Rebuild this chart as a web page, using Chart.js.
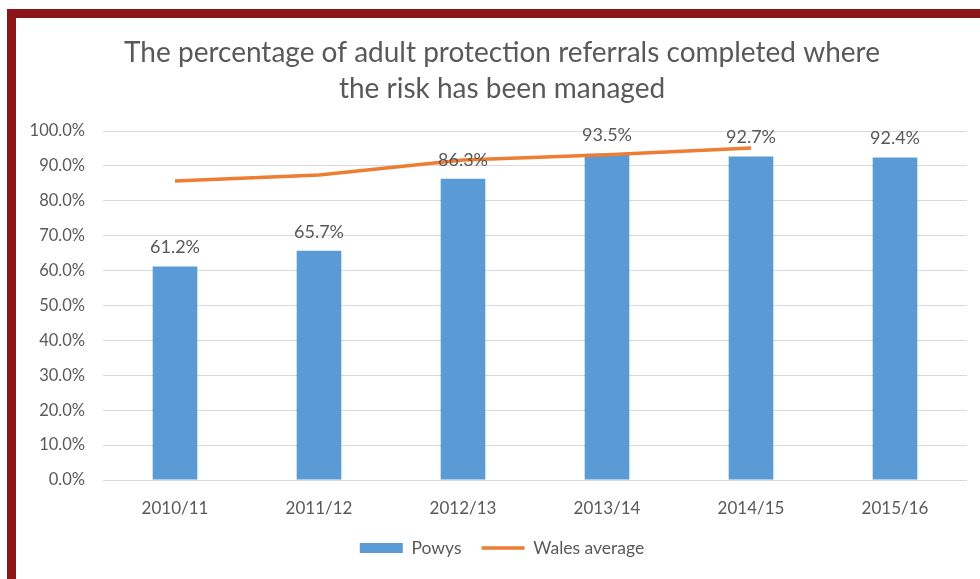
<!DOCTYPE html>
<html>
<head>
<meta charset="utf-8">
<script src="https://cdn.jsdelivr.net/npm/chart.js@4"></script>
<style>
    html, body { margin: 0; padding: 0; background: #fff; overflow: hidden; }
    .frame {
        position: absolute;
        left: 7px;
        top: 9px;
        width: 1000px;
        height: 568px;
        border: 9px solid #8a1619;
        background: #fff;
    }
    .chart-box {
        position: absolute;
        left: 0;
        top: 0;
        width: 972px;
        height: 559px;
    }
</style>
</head>
<body>
<div class="frame">
    <div class="chart-box"><canvas id="referralsChart"></canvas></div>
</div>
<script>
// chart data
const years = ['2010/11', '2011/12', '2012/13', '2013/14', '2014/15', '2015/16'];
const powys = [61.2, 65.7, 86.3, 93.5, 92.7, 92.4];
const walesAverage = [85.7, 87.4, 91.7, 93.2, 95.1, null];
const yTicks = [0, 10, 20, 30, 40, 50, 60, 70, 80, 90, 100];

document.addEventListener('DOMContentLoaded', function() {
    const textColor = '#595959';
    const fontFamily = 'Lato, "Open Sans", sans-serif';

    // labels on top of the bars
    const barLabels = {
        id: 'barLabels',
        afterDatasetsDraw(chart) {
            const meta = chart.getDatasetMeta(1);
            const ctx = chart.ctx;
            ctx.save();
            ctx.font = '18px ' + fontFamily;
            ctx.fillStyle = textColor;
            ctx.textAlign = 'center';
            ctx.textBaseline = 'middle';
            meta.data.forEach((bar, i) => {
                ctx.fillText(powys[i].toFixed(1) + '%', bar.x, bar.y - 19);
            });
            ctx.restore();
        }
    };

    const ctx = document.getElementById('referralsChart').getContext('2d');
    new Chart(ctx, {
        data: {
            labels: years,
            datasets: [{
                type: 'line',
                label: 'Wales average',
                data: walesAverage,
                borderColor: '#ed7d31',
                backgroundColor: '#ed7d31',
                borderWidth: 3.5,
                pointRadius: 0,
                pointStyle: 'line',
                tension: 0
            }, {
                type: 'bar',
                label: 'Powys',
                data: powys,
                backgroundColor: '#5b9bd5',
                borderWidth: 0,
                pointStyle: 'rect',
                barPercentage: 0.31,
                categoryPercentage: 1
            }]
        },
        options: {
            responsive: true,
            maintainAspectRatio: false,
            animation: false,
            layout: {
                padding: { left: 0, right: 0, top: 0, bottom: 10.25 }
            },
            plugins: {
                title: {
                    display: true,
                    text: ['The percentage of adult protection referrals completed where', 'the risk has been managed'],
                    color: textColor,
                    font: { family: fontFamily, size: 28, weight: 'normal', lineHeight: 1.286 },
                    padding: { top: 17, bottom: 24 }
                },
                legend: {
                    position: 'bottom',
                    reverse: true,
                    labels: {
                        usePointStyle: true,
                        pointStyleWidth: 43,
                        boxWidth: 43,
                        boxHeight: 10,
                        padding: 20,
                        color: textColor,
                        font: { family: fontFamily, size: 17.5, lineHeight: 1.2 }
                    }
                },
                tooltip: { enabled: false }
            },
            scales: {
                x: {
                    grid: { display: false },
                    border: { display: false },
                    ticks: {
                        color: textColor,
                        padding: 10,
                        font: { family: fontFamily, size: 17 }
                    },
                    afterFit(scale) {
                        scale.height = 39.25;
                    }
                },
                y: {
                    min: 0,
                    max: 100,
                    grid: { color: '#d9d9d9', drawTicks: false, lineWidth: 1 },
                    border: { display: false },
                    afterBuildTicks(scale) {
                        scale.ticks = yTicks.map(v => ({ value: v }));
                    },
                    ticks: {
                        color: textColor,
                        padding: 18,
                        font: { family: fontFamily, size: 16.5 },
                        callback: v => v.toFixed(1) + '%'
                    },
                    afterFit(scale) {
                        scale.width = 87;
                    }
                },
                // empty right-hand space so the plot ends where the original does
                spacer: {
                    position: 'right',
                    min: 0,
                    max: 100,
                    grid: { display: false },
                    border: { display: false },
                    ticks: { display: false },
                    afterFit(scale) {
                        scale.width = 21;
                    }
                }
            }
        },
        plugins: [barLabels]
    });
});
</script>
</body>
</html>
